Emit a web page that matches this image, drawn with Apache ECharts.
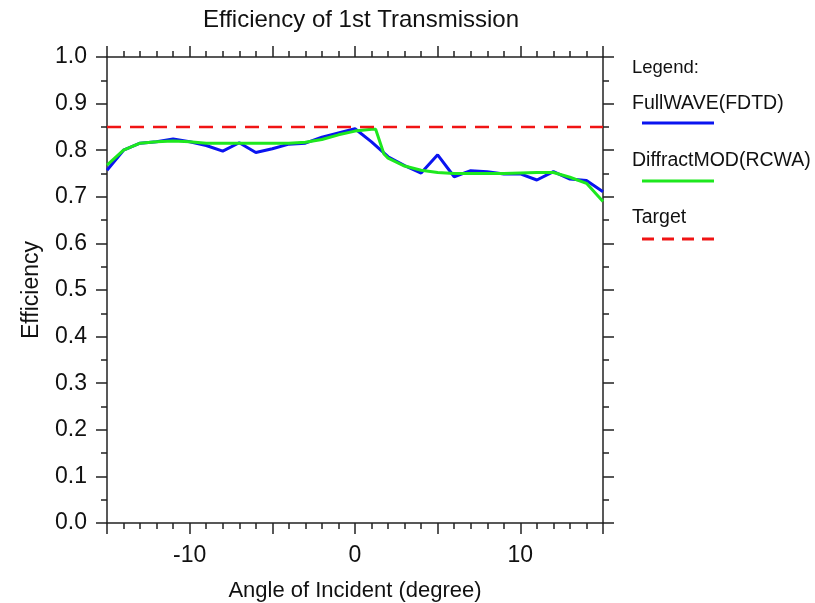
<!DOCTYPE html>
<html>
<head>
<meta charset="utf-8">
<script src="https://cdn.jsdelivr.net/npm/echarts@6/dist/echarts.min.js"></script>
<style>
  html, body { margin: 0; padding: 0; background: #ffffff; }
  #chart { width: 815px; height: 603px; }
</style>
</head>
<body>
<div id="chart"></div>
<script>
// Incident angle (degrees) for the FDTD sweep
const angles = [-15,-14,-13,-12,-11,-10,-9,-8,-7,-6,-5,-4,-3,-2,-1,0,1,2,3,4,5,6,7,8,9,10,11,12,13,14,15];
// FullWAVE (FDTD) first-order transmission efficiency
const fullwave = [0.757,0.800,0.815,0.818,0.824,0.818,0.810,0.798,0.816,0.795,0.803,0.813,0.815,0.828,0.837,0.846,
                  0.818,0.786,0.767,0.751,0.790,0.743,0.756,0.754,0.749,0.749,0.736,0.754,0.738,0.735,0.711];
// DiffractMOD (RCWA) sweep, refined around the drop just above 1 degree
const rcwaAngles = [-15,-14,-13,-12,-11,-10,-9,-8,-7,-6,-5,-4,-3,-2,-1,0,1,1.25,1.75,2,3,4,5,6,7,8,9,10,11,12,13,14,15];
const diffractmod = [0.768,0.800,0.815,0.818,0.820,0.818,0.815,0.815,0.815,0.815,0.815,0.815,0.817,0.823,0.833,0.841,
                     0.845,0.845,0.792,0.783,0.766,0.757,0.752,0.750,0.750,0.750,0.750,0.751,0.752,0.752,0.742,0.729,0.690];
// Design target efficiency
const targetAngles = [-15, 15];
const targetValue = 0.85;

const seriesNames = ['FullWAVE(FDTD)', 'DiffractMOD(RCWA)', 'Target'];
const colors = ['#0a14f0', '#1ee81e', '#f01414'];

const pairs = (xs, ys) => xs.map((x, i) => [x, ys[i]]);
const FONT = '"Liberation Sans", Arial, sans-serif';
const INK = '#111111';

const axisLineStyle = { onZero: false, lineStyle: { color: '#222', width: 1.5 } };
const tickStyle = { color: '#222', width: 1.5 };

const chart = echarts.init(document.getElementById('chart'), null, { renderer: 'canvas' });

// Hand-placed legend: caption above each sample line
const legendX = 632, sampleX1 = 642, sampleX2 = 714;
const legendRows = [
  { label: seriesNames[0], textY: 106, lineY: 123, color: colors[0], dash: null },
  { label: seriesNames[1], textY: 163, lineY: 181, color: colors[1], dash: null },
  { label: seriesNames[2], textY: 220, lineY: 239, color: colors[2], dash: [12, 8] }
];
const legendGraphics = [{
  type: 'text', left: legendX, top: 58,
  style: { text: 'Legend:', font: '18.5px ' + FONT, fill: INK }
}];
legendRows.forEach(r => {
  legendGraphics.push({
    type: 'text', left: legendX, top: r.textY - 12,
    style: { text: r.label, font: '19.5px ' + FONT, fill: INK }
  });
  legendGraphics.push({
    type: 'line',
    shape: { x1: sampleX1, y1: r.lineY, x2: sampleX2, y2: r.lineY },
    style: { stroke: r.color, lineWidth: 3, lineDash: r.dash }
  });
});

function xAxisDef(pos, withLabels) {
  return {
    type: 'value', position: pos, min: -15, max: 15, interval: 5,
    axisLine: axisLineStyle,
    axisTick: { show: true, length: 11, lineStyle: tickStyle },
    minorTick: { show: true, splitNumber: 5, length: 6, lineStyle: tickStyle },
    axisLabel: withLabels ? {
      margin: 21, fontFamily: FONT, fontSize: 23, color: INK,
      formatter: v => (v % 10 === 0 && Math.abs(v) < 15) ? String(v) : ''
    } : { show: false },
    splitLine: { show: false }, minorSplitLine: { show: false }
  };
}
function yAxisDef(pos, withLabels) {
  return {
    type: 'value', position: pos, min: 0, max: 1, interval: 0.1,
    axisLine: axisLineStyle,
    axisTick: { show: true, length: 11, lineStyle: tickStyle },
    minorTick: { show: true, splitNumber: 2, length: 6, lineStyle: tickStyle },
    axisLabel: withLabels ? {
      margin: 20, fontFamily: FONT, fontSize: 23, color: INK, formatter: v => v.toFixed(1)
    } : { show: false },
    splitLine: { show: false }, minorSplitLine: { show: false }
  };
}

const xBottom = Object.assign(xAxisDef('bottom', true), {
  name: 'Angle of Incident (degree)', nameLocation: 'middle', nameGap: 57,
  nameTextStyle: { fontFamily: FONT, fontSize: 22, color: INK }
});
const yLeft = Object.assign(yAxisDef('left', true), {
  name: 'Efficiency', nameLocation: 'middle', nameGap: 64,
  nameTextStyle: { fontFamily: FONT, fontSize: 23, color: INK }
});

chart.setOption({
  backgroundColor: '#ffffff',
  animation: false,
  title: {
    text: 'Efficiency of 1st Transmission',
    left: 356, top: 3, textAlign: 'center',
    textStyle: { fontFamily: FONT, fontSize: 24, fontWeight: 'normal', color: INK }
  },
  grid: { left: 107, right: 212, top: 57, bottom: 80, containLabel: false, outerBoundsMode: 'none' },
  xAxis: [xBottom, xAxisDef('top', false)],
  yAxis: [yLeft, yAxisDef('right', false)],
  series: [{
    name: seriesNames[0], type: 'line', xAxisIndex: 0, yAxisIndex: 0,
    data: pairs(angles, fullwave), showSymbol: false, symbol: 'none',
    lineStyle: { color: colors[0], width: 3 }, z: 2
  }, {
    name: seriesNames[1], type: 'line', xAxisIndex: 0, yAxisIndex: 0,
    data: pairs(rcwaAngles, diffractmod), showSymbol: false, symbol: 'none',
    lineStyle: { color: colors[1], width: 3 }, z: 3
  }, {
    name: seriesNames[2], type: 'line', xAxisIndex: 0, yAxisIndex: 0,
    data: targetAngles.map(a => [a, targetValue]), showSymbol: false, symbol: 'none',
    lineStyle: { color: colors[2], width: 2.5, type: [14, 9] }, z: 4
  }],
  graphic: legendGraphics
});
</script>
</body>
</html>
